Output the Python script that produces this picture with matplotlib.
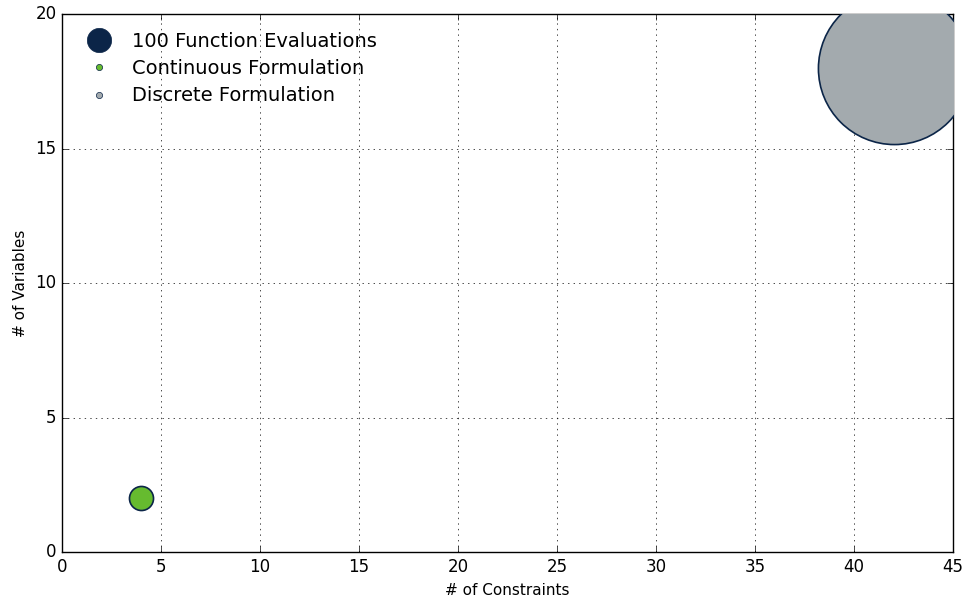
import matplotlib
matplotlib.use("Agg")
from matplotlib import pyplot as plt
from matplotlib.lines import Line2D

plt.style.use("classic")

# data
formulations = ["Continuous Formulation", "Discrete Formulation"]
n_constraints = [4, 42]
n_variables = [2, 18]
n_evaluations = [100, 4000]
colors = ["#66bb2f", "#a3aaae"]
navy = "#0b2548"
size_per_eval = 3.0

fig = plt.figure(figsize=[9.66, 6.01], dpi=100, facecolor="white")
ax = fig.add_axes([0.0642, 0.0815, 0.9223, 0.8952])
ax.set_facecolor("white")

for x, y, n, c in zip(n_constraints, n_variables, n_evaluations, colors):
    ax.scatter(x, y, s=n * size_per_eval, c=c, edgecolors=navy, linewidths=1.2, zorder=3)

ax.set_xlim(0, 45)
ax.set_ylim(0, 20)
ax.set_xticks(range(0, 46, 5))
ax.set_yticks(range(0, 21, 5))
ax.grid(True)
ax.set_xlabel("# of Constraints", fontsize=11)
ax.set_ylabel("# of Variables", fontsize=11)

handles = [
    Line2D([], [], ls="none", marker="o", ms=17.5, mfc=navy, mec=navy),
    Line2D([], [], ls="none", marker="o", ms=4.5, mfc=colors[0], mec=navy, mew=0.5),
    Line2D([], [], ls="none", marker="o", ms=4.5, mfc=colors[1], mec=navy, mew=0.5),
]
labels = ["100 Function Evaluations"] + formulations
ax.legend(handles, labels, loc="upper left", frameon=False, numpoints=1,
          fontsize=14, labelspacing=0.42, handletextpad=0.72,
          bbox_to_anchor=(0.0, 0.999))

plt.savefig("out.png", dpi=100, facecolor="white")
